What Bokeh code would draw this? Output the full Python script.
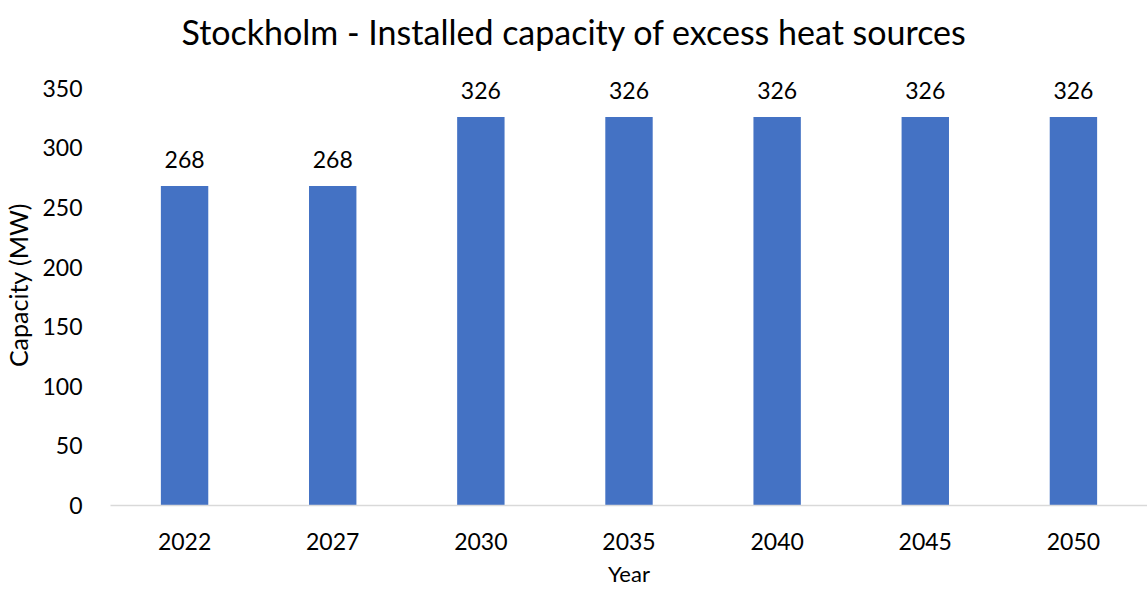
from bokeh.plotting import figure
from bokeh.models import ColumnDataSource, FactorRange, Range1d, LabelSet, FixedTicker
from bokeh.core.properties import value
from bokeh.embed import file_html
from bokeh.resources import INLINE

years = ["2022", "2027", "2030", "2035", "2040", "2045", "2050"]
capacity = [268, 268, 326, 326, 326, 326, 326]
y_ticks = [0, 50, 100, 150, 200, 250, 300, 350]

FONT = "Lato"
source = ColumnDataSource(data=dict(year=years, cap=capacity, lbl=[str(v) for v in capacity]))

p = figure(
    x_range=FactorRange(*years, range_padding=0),
    y_range=Range1d(0, 370),
    frame_width=1037, frame_height=441,
    min_border_left=102, min_border_right=0, min_border_top=56, min_border_bottom=82,
    output_backend="svg", toolbar_location=None,
    title="Stockholm - Installed capacity of excess heat sources",
)
p.title.text_font = FONT
p.title.text_font_size = "34px"
p.title.text_font_style = "normal"
p.title.align = "left"
p.title.offset = 71
p.title.vertical_align = "top"
p.title.text_color = "#000000"
p.title.standoff = 21

p.vbar(x="year", top="cap", width=0.32, source=source, color="#4472C4", line_color=None)

labels = LabelSet(x="year", y="cap", text="lbl", source=source, text_align="center",
                  text_baseline="bottom", y_offset=18, text_font=value(FONT),
                  text_font_size=value("23px"), text_color=value("#000000"))
p.add_layout(labels)

p.xgrid.visible = False
p.ygrid.visible = False
p.outline_line_color = None
p.background_fill_color = "white"
p.border_fill_color = "white"

p.xaxis.axis_line_color = "#D9D9D9"
p.xaxis.axis_line_width = 1.5
p.xaxis.major_tick_line_color = None
p.xaxis.minor_tick_line_color = None
p.xaxis.major_label_text_font = FONT
p.xaxis.major_label_text_font_size = "23px"
p.xaxis.major_label_text_color = "#000000"
p.xaxis.major_label_standoff = 21
p.xaxis.axis_label = "Year"
p.xaxis.axis_label_text_font = FONT
p.xaxis.axis_label_text_font_size = "22px"
p.xaxis.axis_label_text_font_style = "normal"
p.xaxis.axis_label_text_color = "#000000"
p.xaxis.axis_label_standoff = 7

p.yaxis.ticker = FixedTicker(ticks=y_ticks)
p.yaxis.axis_line_color = None
p.yaxis.major_tick_line_color = None
p.yaxis.minor_tick_line_color = None
p.yaxis.major_label_text_font = FONT
p.yaxis.major_label_text_font_size = "23px"
p.yaxis.major_label_text_color = "#000000"
p.yaxis.major_label_standoff = 22
p.yaxis.axis_label = "Capacity (MW)"
p.yaxis.axis_label_text_font = FONT
p.yaxis.axis_label_text_font_size = "25px"
p.yaxis.axis_label_text_font_style = "normal"
p.yaxis.axis_label_text_color = "#000000"
p.yaxis.axis_label_standoff = 6

open("out.html", "w").write(file_html(p, INLINE))
